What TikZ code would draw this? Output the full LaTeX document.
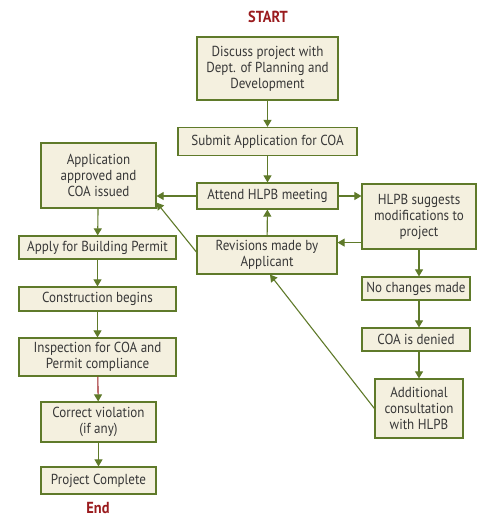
\documentclass[tikz,border=0pt]{standalone}
\usepackage{fontspec}
\setmainfont{PT Sans}[FakeStretch=0.9]
\usepackage{tikz}
\usetikzlibrary{arrows.meta}

\definecolor{olivegreen}{HTML}{5F7A2A}
\definecolor{boxfill}{HTML}{F4F0DF}
\definecolor{darkred}{HTML}{9A1B1E}

\tikzset{
	stepbox/.style={draw=olivegreen, fill=boxfill, line width=1.2pt, align=center,
		inner sep=0pt, text=black!78, font=\fontsize{14.5}{16}\selectfont},
	arr/.style={draw=olivegreen, line width=1.1pt, -{Triangle[width=8pt,length=7pt]}},
	redarr/.style={draw=darkred, line width=1.1pt, -{Triangle[width=8pt,length=7pt,color=olivegreen]}},
	endlabel/.style={text=darkred, font=\fontsize{16}{18}\selectfont\bfseries}
}

\begin{document}
\begin{tikzpicture}[x=1pt, y=-1pt]
	\useasboundingbox (0, 0) rectangle (482, 518);
	% middle column
	\node[endlabel] (start) at (268, 17) {START};
	\node[stepbox, minimum width=141, minimum height=63] (discuss) at (267.5, 68.5) {Discuss project with\\Dept. of Planning and\\Development};
	\node[stepbox, minimum width=179, minimum height=28] (submit) at (267.5, 141.5) {Submit Application for COA};
	\node[stepbox, minimum width=141, minimum height=26] (attend) at (267.5, 196) {Attend HLPB meeting};
	\node[stepbox, minimum width=140, minimum height=38] (revise) at (267, 255) {Revisions made by\\Applicant};
	% right column
	\node[stepbox, minimum width=114, minimum height=65] (suggest) at (419, 216.5) {HLPB suggests\\modifications to\\project};
	\node[stepbox, minimum width=108, minimum height=23] (nochange) at (416, 288.5) {No changes made};
	\node[stepbox, minimum width=108, minimum height=23] (denied) at (416, 339.5) {COA is denied};
	\node[stepbox, minimum width=88, minimum height=59] (consult) at (419, 408.5) {Additional\\consultation\\with HLPB};
	% left column
	\node[stepbox, minimum width=115, minimum height=65] (approved) at (98.5, 175.5) {Application\\approved and\\COA issued};
	\node[stepbox, minimum width=157, minimum height=23] (permit) at (97.5, 247.5) {Apply for Building Permit};
	\node[stepbox, minimum width=157, minimum height=24] (construct) at (97.5, 299) {Construction begins};
	\node[stepbox, minimum width=157, minimum height=38] (inspect) at (97.5, 357) {Inspection for COA and\\Permit compliance};
	\node[stepbox, minimum width=115, minimum height=40] (correct) at (98.5, 422) {Correct violation\\(if any)};
	\node[stepbox, minimum width=115, minimum height=27] (complete) at (98.5, 480.5) {Project Complete};
	\node[endlabel, anchor=south, inner sep=1pt] (end) at (98, 515) {End};

	\draw[arr] (discuss) -- (submit);
	\draw[arr] (submit) -- (attend);
	\draw[arr] (attend) -- (approved.east |- attend);
	\draw[arr] (attend) -- (suggest.west |- attend);
	\draw[arr] ([yshift=7]suggest.south west) -- ([yshift=7]suggest.south west -| revise.east);
	\draw[arr] (revise) -- (attend);
	\draw[arr] ([yshift=3]revise.west) -- ([yshift=6]approved.south east);
	\draw[arr] (suggest.south) -- (suggest.south |- nochange.north);
	\draw[arr] (nochange.south -| suggest.south) -- (suggest.south |- denied.north);
	\draw[arr] (denied.south -| suggest.south) -- (consult);
	\draw[arr] (consult.west) -- ([xshift=3]revise.south);
	\draw[arr] (approved) -- (permit);
	\draw[arr] (permit) -- (construct);
	\draw[arr] (construct) -- (inspect);
	\draw[redarr] (inspect) -- (correct);
	\draw[arr] (correct) -- (complete);
\end{tikzpicture}
\end{document}
